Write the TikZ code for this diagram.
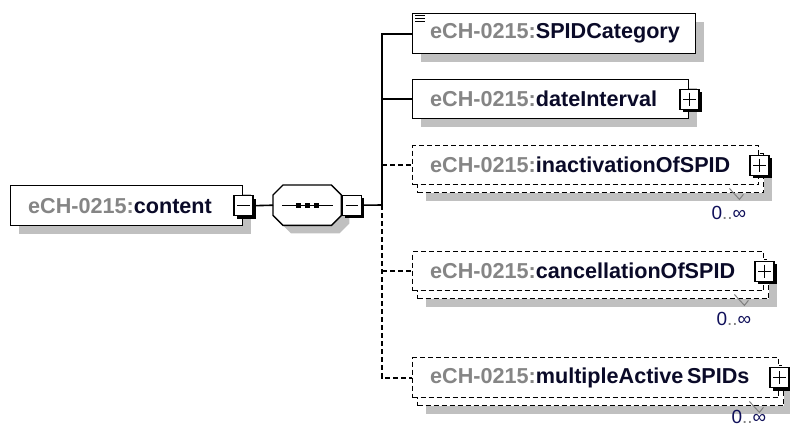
\documentclass[tikz,border=0pt]{standalone}
\usepackage{fontspec}
\setmainfont{Liberation Sans}
\usetikzlibrary{shadows}
\definecolor{pregray}{HTML}{858585}
\definecolor{nmcol}{HTML}{0A0A28}
\definecolor{shad}{HTML}{C0C0C0}
\definecolor{multcol}{HTML}{10105A}
\newcommand{\elname}[1]{{\color{pregray}eCH-0215:}{\color{nmcol}#1}}
\newcommand{\minusmark}[1]{\draw[line width=1.4pt] ([xshift=4pt]#1.west) -- ([xshift=-4pt]#1.east);}
\newcommand{\plusmark}[1]{\minusmark{#1}\draw[line width=1.4pt] ([yshift=-4pt]#1.north) -- ([yshift=4pt]#1.south);}
\newcommand{\octpath}[1]{([xshift=10pt]#1.north west) -- ([xshift=-10pt]#1.north east) -- ([yshift=-10pt]#1.north east) -- ([yshift=10pt]#1.south east) -- ([xshift=-10pt]#1.south east) -- ([xshift=10pt]#1.south west) -- ([yshift=10pt]#1.south west) -- ([yshift=-10pt]#1.north west) -- cycle}
\newcommand{\multmark}[2]{%
  \draw[gray, line width=1pt] ([shift={(-35,-5)}]#1.south east) -- ([shift={(-25,6)}]#1.south east) -- ([shift={(-21,1)}]#1.south east);
  \node[multlab] (#1lab) at ([shift={(-18,#2)}]#1.south east) {0{\color{gray}..}∞};}
\begin{document}
\begin{tikzpicture}[x=1pt,y=-1pt,
  elbox/.style={draw=black, line width=1.4pt, fill=white, rectangle, inner sep=0pt, anchor=north west},
  shadowed/.style={drop shadow={shadow xshift=8pt, shadow yshift=-8pt, fill=shad, opacity=1}},
  optbox/.style={elbox, dash pattern=on 5pt off 3pt},
  pmbox/.style={draw=black, line width=1.4pt, fill=white, rectangle, minimum width=19pt, minimum height=20pt, inner sep=0pt,
    drop shadow={shadow xshift=3pt, shadow yshift=-3pt, fill=black, opacity=1}},
  eltext/.style={anchor=west, inner sep=0pt, font=\bfseries\fontsize{21.6}{25}\selectfont},
  conn/.style={line width=1.6pt},
  dconn/.style={conn, dash pattern=on 5pt off 3pt},
  multlab/.style={anchor=east, inner sep=0pt, font=\fontsize{19}{22}\selectfont, text=multcol}]
\useasboundingbox (0,0) rectangle (790,429);

% root element
\node[elbox, shadowed, minimum width=232pt, minimum height=40pt] (content) at (10,185) {};
\node[eltext] (contentT) at ([xshift=18pt]content.west) {\elname{content}};
\node[pmbox] (contentM) at (content.east) {};
\minusmark{contentM}

% sequence compositor
\node[minimum width=68pt, minimum height=40pt, anchor=north west, inner sep=0pt] (seqS) at (281,193) {};
\node[minimum width=68pt, minimum height=40pt, anchor=north west, inner sep=0pt] (seq) at (273,185) {};
\fill[shad] \octpath{seqS};
\draw[line width=1.4pt, fill=white] \octpath{seq};
\draw[line width=1.4pt] ([xshift=9pt]seq.west) -- ([xshift=-8pt]seq.east);
\fill ([shift={(-11.5,-2.5)}]seq.center) rectangle +(5,5);
\fill ([shift={(-2.5,-2.5)}]seq.center) rectangle +(5,5);
\fill ([shift={(6.5,-2.5)}]seq.center) rectangle +(5,5);
\node[pmbox] (seqM) at ([xshift=10.5pt]seq.east) {};
\minusmark{seqM}

% children
\node[elbox, shadowed, minimum width=283pt, minimum height=40pt] (spid) at (412,13) {};
\node[eltext] (spidT) at ([xshift=18pt]spid.west) {\elname{SPIDCategory}};
\foreach \k in {2.5,5.5,8.5}
  \draw[line width=1.4pt] ([shift={(3,\k)}]spid.north west) -- +(10,0);

\node[elbox, shadowed, minimum width=276pt, minimum height=39pt] (dint) at (412,79) {};
\node[eltext] (dintT) at ([xshift=18pt]dint.west) {\elname{dateInterval}};
\node[pmbox] (dintP) at (dint.east) {};
\plusmark{dintP}

\node[optbox, shadowed, minimum width=346pt, minimum height=39pt] (inactB) at (417,153) {};
\node[optbox, minimum width=346pt, minimum height=39pt] (inact) at (412,145) {};
\node[eltext] (inactT) at ([xshift=18pt]inact.west) {\elname{inactivationOfSPID}};
\node[pmbox] (inactP) at (inact.east) {};
\plusmark{inactP}
\multmark{inactB}{20}

\node[optbox, shadowed, minimum width=351pt, minimum height=39pt] (cancB) at (417,259) {};
\node[optbox, minimum width=351pt, minimum height=39pt] (canc) at (412,251) {};
\node[eltext] (cancT) at ([xshift=18pt]canc.west) {\elname{cancellationOfSPID}};
\node[pmbox] (cancP) at (canc.east) {};
\plusmark{cancP}
\multmark{cancB}{20}

\node[optbox, shadowed, minimum width=366pt, minimum height=40pt] (multB) at (417,365) {};
\node[optbox, minimum width=366pt, minimum height=40pt] (mult) at (412,357) {};
\node[eltext] (multT) at ([xshift=18pt]mult.west) {\elname{multipleActive\,SPIDs}};
\node[pmbox] (multP) at (mult.east) {};
\plusmark{multP}
\multmark{multB}{11}

% connectors
\coordinate (hub) at (382,205);
\draw[conn] (contentM.east) -- (seq.west);
\draw[conn] (seqM.east) -- (hub);
\draw[conn] (hub) -- (hub |- spid.west) -- (spid.west);
\draw[conn] (hub |- dint.west) -- (dint.west);
\draw[dconn] (hub |- inact.west) -- (inact.west);
\draw[dconn] (hub) -- (hub |- mult.west) -- (mult.west);
\draw[dconn] (hub |- canc.west) -- (canc.west);
\end{tikzpicture}
\end{document}
